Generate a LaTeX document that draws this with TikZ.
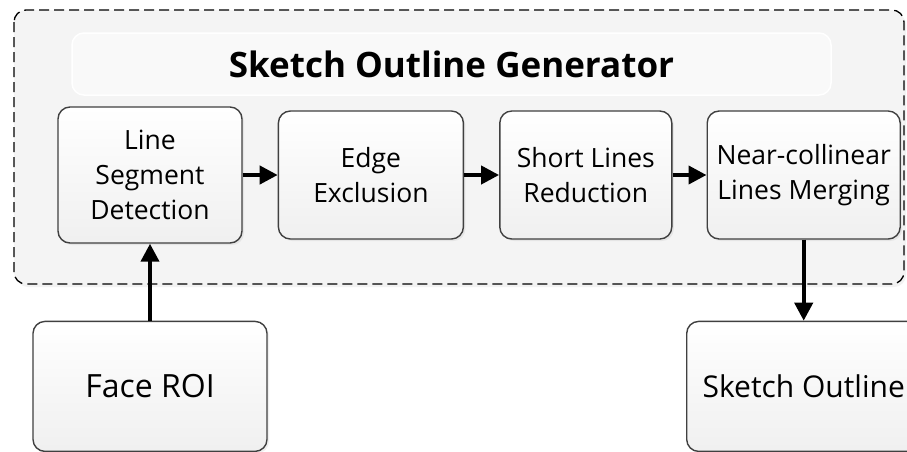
\documentclass[tikz,border=0pt]{standalone}
\usepackage{fontspec}
\setmainfont{Open Sans}
\usetikzlibrary{arrows.meta,positioning,shadows}
\definecolor{boxline}{RGB}{64,64,64}
\definecolor{groupfill}{RGB}{244,244,244}

\begin{document}
\begin{tikzpicture}[x=1pt,y=-1pt,>={Triangle[length=18pt,width=18pt]},
  stage/.style={draw=boxline,line width=1.4pt,rounded corners=12pt,
              top color=white,bottom color=black!6,align=center,
              minimum height=128pt,font=\fontsize{26.5}{35}\selectfont,
              drop shadow={shadow xshift=2pt,shadow yshift=-2pt,opacity=0.12},
              inner sep=0pt},
  io/.style={stage,minimum width=234pt,minimum height=130pt,
             font=\fontsize{32}{38}\selectfont},
  flow/.style={->,line width=4pt}]
\clip (0,0) rectangle (907,451);
\fill[white] (0,0) rectangle (907,451);
% group frame
\draw[dashed,dash pattern=on 10pt off 5pt,line width=1.3pt,fill=groupfill,
      rounded corners=12pt,
      drop shadow={shadow xshift=2pt,shadow yshift=-3pt,opacity=0.1}]
  (14,10) rectangle (904,284);
\node[draw=white,line width=1.5pt,fill=black!2.5,rounded corners=12pt,
      minimum width=759pt,minimum height=62pt,
      font=\fontsize{35}{40}\selectfont\bfseries] (title) at (451.5,64)
  {Sketch Outline Generator};
% pipeline
\node[stage,minimum width=184pt,minimum height=136pt] (detect) at (150,175)
  {Line\\Segment\\Detection};
\node[stage,minimum width=185pt,right=35pt of detect] (exclude) {Edge\\Exclusion};
\node[stage,minimum width=172pt,right=35pt of exclude] (reduce) {Short Lines\\Reduction};
\node[stage,minimum width=193pt,right=34pt of reduce] (merge) {Near-collinear\\Lines Merging};
\node[io,below=77pt of detect] (face) {Face ROI};
\node[io,below=81pt of merge,font=\fontsize{30}{38}\selectfont] (outline) {Sketch Outline};
\draw[flow] (detect)--(exclude);
\draw[flow] (exclude)--(reduce);
\draw[flow] (reduce)--(merge);
\draw[flow] (face)--(detect);
\draw[flow] (merge)--(outline);
\end{tikzpicture}
\end{document}
